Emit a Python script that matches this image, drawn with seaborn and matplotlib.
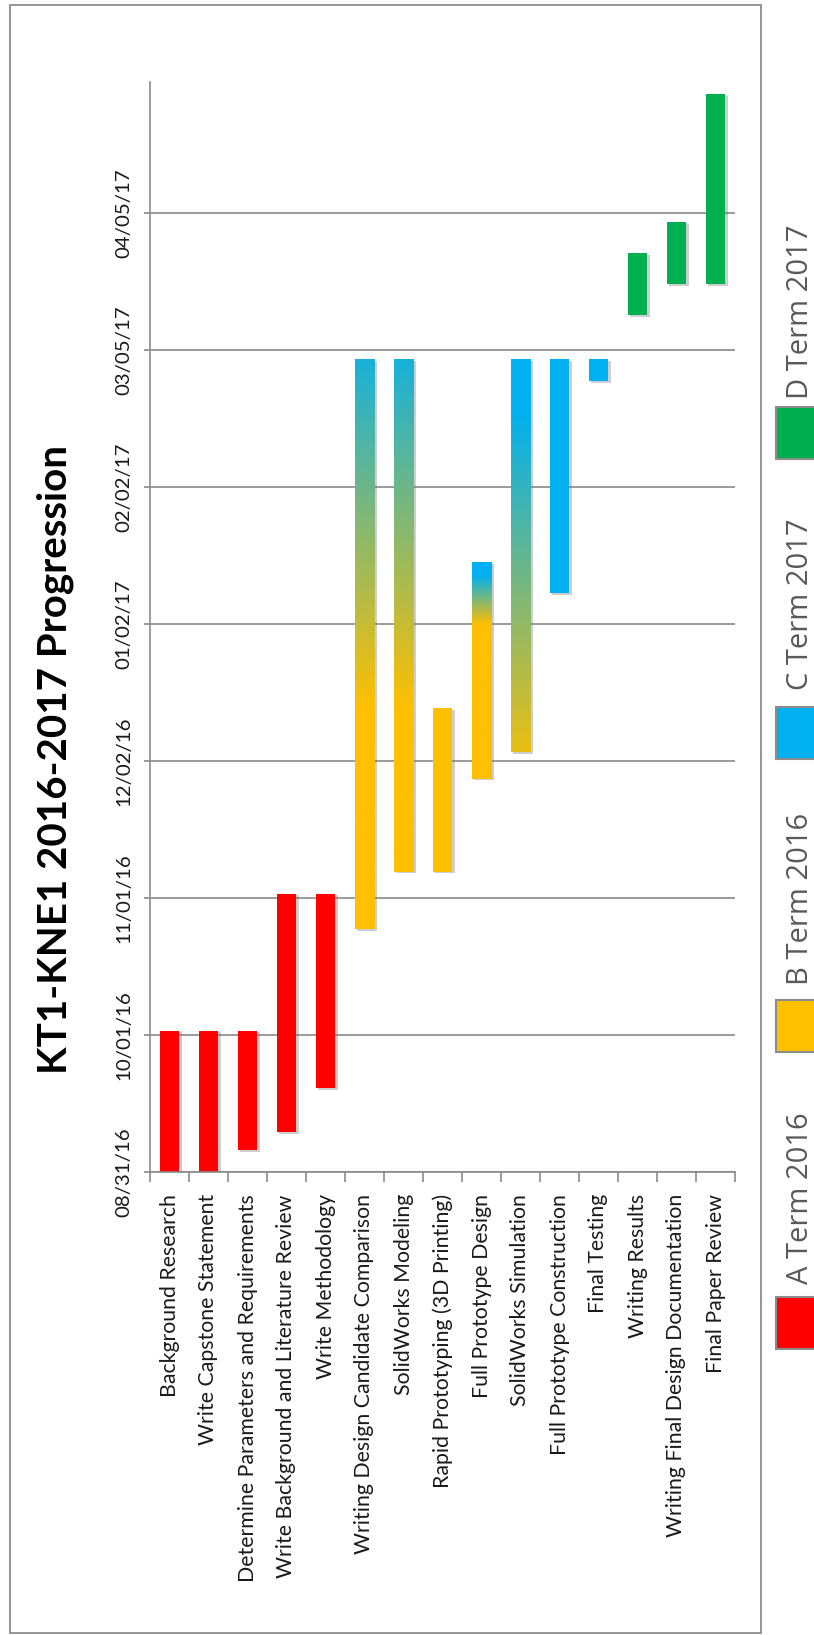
import numpy as np
import pandas as pd
import matplotlib
matplotlib.use("Agg")
import matplotlib.pyplot as plt
import seaborn as sns
from matplotlib.patches import Rectangle
from matplotlib import patheffects as pe
from matplotlib.colors import to_rgb
from matplotlib.ticker import FixedLocator, FuncFormatter

# ---- schedule data -------------------------------------------------------
tasks = [
    "Background Research",
    "Write Capstone Statement",
    "Determine Parameters and Requirements",
    "Write Background and Literature Review",
    "Write Methodology",
    "Writing Design Candidate Comparison",
    "SolidWorks Modeling",
    "Rapid Prototyping (3D Printing)",
    "Full Prototype Design",
    "SolidWorks Simulation",
    "Full Prototype Construction",
    "Final Testing",
    "Writing Results",
    "Writing Final Design Documentation",
    "Final Paper Review",
]
start_dates = [
    "2016-08-31", "2016-08-31", "2016-09-05", "2016-09-09", "2016-09-19",
    "2016-10-25", "2016-11-07", "2016-11-07", "2016-11-28", "2016-12-04",
    "2017-01-09", "2017-02-26", "2017-03-13", "2017-03-20", "2017-03-20",
]
end_dates = [
    "2016-10-02", "2016-10-02", "2016-10-02", "2016-11-02", "2016-11-02",
    "2017-03-03", "2017-03-03", "2016-12-14", "2017-01-16", "2017-03-03",
    "2017-03-03", "2017-03-03", "2017-03-27", "2017-04-03", "2017-05-02",
]
# term the task starts in and the term it finishes in
start_terms = ["A", "A", "A", "A", "A", "B", "B", "B", "B", "B", "C", "C", "D", "D", "D"]
end_terms = ["A", "A", "A", "A", "A", "C", "C", "B", "C", "C", "C", "C", "D", "D", "D"]
# window over which a term-spanning bar blends from one term colour to the next
blend_from = [None, None, None, None, None, "2016-12-14", "2016-12-14", None,
              "2017-01-02", "2016-11-27", None, None, None, None, None]
blend_to = [None, None, None, None, None, "2017-03-11", "2017-03-11", None,
            "2017-01-13", "2017-02-19", None, None, None, None, None]

term_names = ["A Term 2016", "B Term 2016", "C Term 2017", "D Term 2017"]
term_keys = ["A", "B", "C", "D"]
term_colors = ["#FF0000", "#FFC000", "#00B0F0", "#00B050"]

title = "KT1-KNE1 2016-2017 Progression"
origin = pd.Timestamp("2016-08-31")
tick_step_days = 31
axis_end_days = 246.7

# ---- derived frame ---------------------------------------------------------
df = pd.DataFrame({
    "task": tasks,
    "start": (pd.to_datetime(start_dates) - origin).days,
    "end": (pd.to_datetime(end_dates) - origin).days,
})
df["span"] = df["end"] - df["start"]
color_of = dict(zip(term_keys, term_colors))

# ---- figure ----------------------------------------------------------------
sns.set_theme(style="white")
plt.rcParams["font.family"] = ["Lato", "DejaVu Sans"]
plt.rcParams["xtick.labelsize"] = 15.5
plt.rcParams["ytick.labelsize"] = 15.5

W, H = 814, 1635
fig = plt.figure(figsize=(W / 100, H / 100), dpi=100)
fig.patch.set_facecolor("white")


def fx(px):
    return px / W


def fy(py):
    return 1 - py / H


ax = fig.add_axes([fx(150), fy(1172), (735 - 150) / W, (1172 - 82) / H])

sns.barplot(
    data=df, x="task", y="span", bottom=df["start"].to_numpy(),
    color="white", width=0.49, saturation=1, errorbar=None, ax=ax,
)

shadow = [pe.SimplePatchShadow(offset=(1.8, -1.2), shadow_rgbFace=(0.45, 0.45, 0.45), alpha=0.35),
          pe.Normal()]

for i, patch in enumerate(ax.patches[:len(tasks)]):
    c0 = color_of[start_terms[i]]
    c1 = color_of[end_terms[i]]
    patch.set_facecolor(c0)
    patch.set_edgecolor("none")
    patch.set_linewidth(0)
    patch.set_zorder(2)
    patch.set_path_effects(shadow)
    if blend_from[i] is not None:
        b0 = (pd.Timestamp(blend_from[i]) - origin).days
        b1 = (pd.Timestamp(blend_to[i]) - origin).days
        x0 = patch.get_x()
        x1 = x0 + patch.get_width()
        y0 = patch.get_y()
        y1 = y0 + patch.get_height()
        ys = np.linspace(y0, y1, 400)
        t = np.clip((ys - b0) / (b1 - b0), 0, 1)[:, None]
        rgb = (1 - t) * np.array(to_rgb(c0)) + t * np.array(to_rgb(c1))
        img = ax.imshow(rgb[:, None, :], origin="lower", extent=(x0, x1, y0, y1),
                        aspect="auto", interpolation="bilinear", zorder=2.5)
        img.set_clip_path(patch)

# ---- axes styling -------------------------------------------------------------
ax.set_xlim(-0.5, len(tasks) - 0.5)
ax.set_ylim(0, axis_end_days)
ax.set_xlabel("")
ax.set_ylabel("")
ax.set_facecolor("white")

grid_col = "#8A8A8A"
for side in ["top", "right"]:
    ax.spines[side].set_visible(False)
for side in ["left", "bottom"]:
    ax.spines[side].set_color(grid_col)
    ax.spines[side].set_linewidth(1.2)

yticks = np.arange(0, 8) * tick_step_days
ax.yaxis.set_major_locator(FixedLocator(yticks))
ax.yaxis.set_major_formatter(FuncFormatter(
    lambda v, pos: (origin + pd.Timedelta(days=int(round(v)))).strftime("%m/%d/%y")))
ax.yaxis.grid(True, color=grid_col, linewidth=1.2, zorder=0)
ax.xaxis.grid(False)
ax.set_axisbelow(True)
ax.tick_params(axis="y", which="major", length=4.3, width=1.2, color=grid_col,
               direction="out", left=True, pad=8.6, labelsize=15.5, labelcolor="#1a1a1a",
               labelrotation=90)

ax.set_xticks(np.arange(len(tasks)))
ax.set_xticklabels(tasks, rotation=90)
ax.set_xticks(np.arange(len(tasks) + 1) - 0.5, minor=True)
ax.tick_params(axis="x", which="major", length=0, pad=16, labelsize=15.5,
               labelcolor="#1a1a1a")
ax.tick_params(axis="x", which="minor", length=7.2, width=1.2, color=grid_col,
               direction="out", bottom=True)

# ---- title ---------------------------------------------------------------------
fig.text(fx(67), fy(759), title, rotation=90, rotation_mode="anchor",
         ha="center", va="baseline", fontsize=29, fontweight="bold",
         color="black", family=["Lato", "DejaVu Sans"])

# ---- legend (vertical, along the right edge) --------------------------------------
marker_tops = [1297, 1000, 707, 407]
text_starts = [1284, 985, 690, 399]
for name, col, mt, ts in zip(term_names, term_colors, marker_tops, text_starts):
    fig.add_artist(Rectangle((fx(776), fy(mt + 52)), 60 / W, 52 / H,
                             transform=fig.transFigure, facecolor=col,
                             edgecolor="#8C8C8C", linewidth=1.5))
    fig.text(fx(808), fy(ts), name, rotation=90, rotation_mode="anchor",
             ha="left", va="baseline", fontsize=21, color="#595959",
             family=["Open Sans", "DejaVu Sans"])

# ---- outer chart border -----------------------------------------------------------
fig.add_artist(Rectangle((fx(10), fy(1633)), (761 - 10) / W, (1633 - 5) / H,
                         transform=fig.transFigure, facecolor="none",
                         edgecolor="#8C8C8C", linewidth=1.3))

# ---- size tick labels so the rotated text runs the intended length ------------------
fig.canvas.draw()
renderer = fig.canvas.get_renderer()


def fit_labels(labels, ref_index, target_px):
    ref = labels[ref_index]
    measured = ref.get_window_extent(renderer).height
    size = ref.get_fontsize() * target_px / measured
    for lab in labels:
        lab.set_fontsize(size)
        lab.set_rotation(90)
    return size


fit_labels(ax.get_xticklabels(), 0, 203)   # "Background Research"
fit_labels(ax.get_yticklabels(), 1, 89)    # "10/01/16"
for lab in ax.get_yticklabels():
    lab.set_va("center")
    lab.set_ha("right")

fig.savefig("out.png", dpi=100, facecolor="white")
